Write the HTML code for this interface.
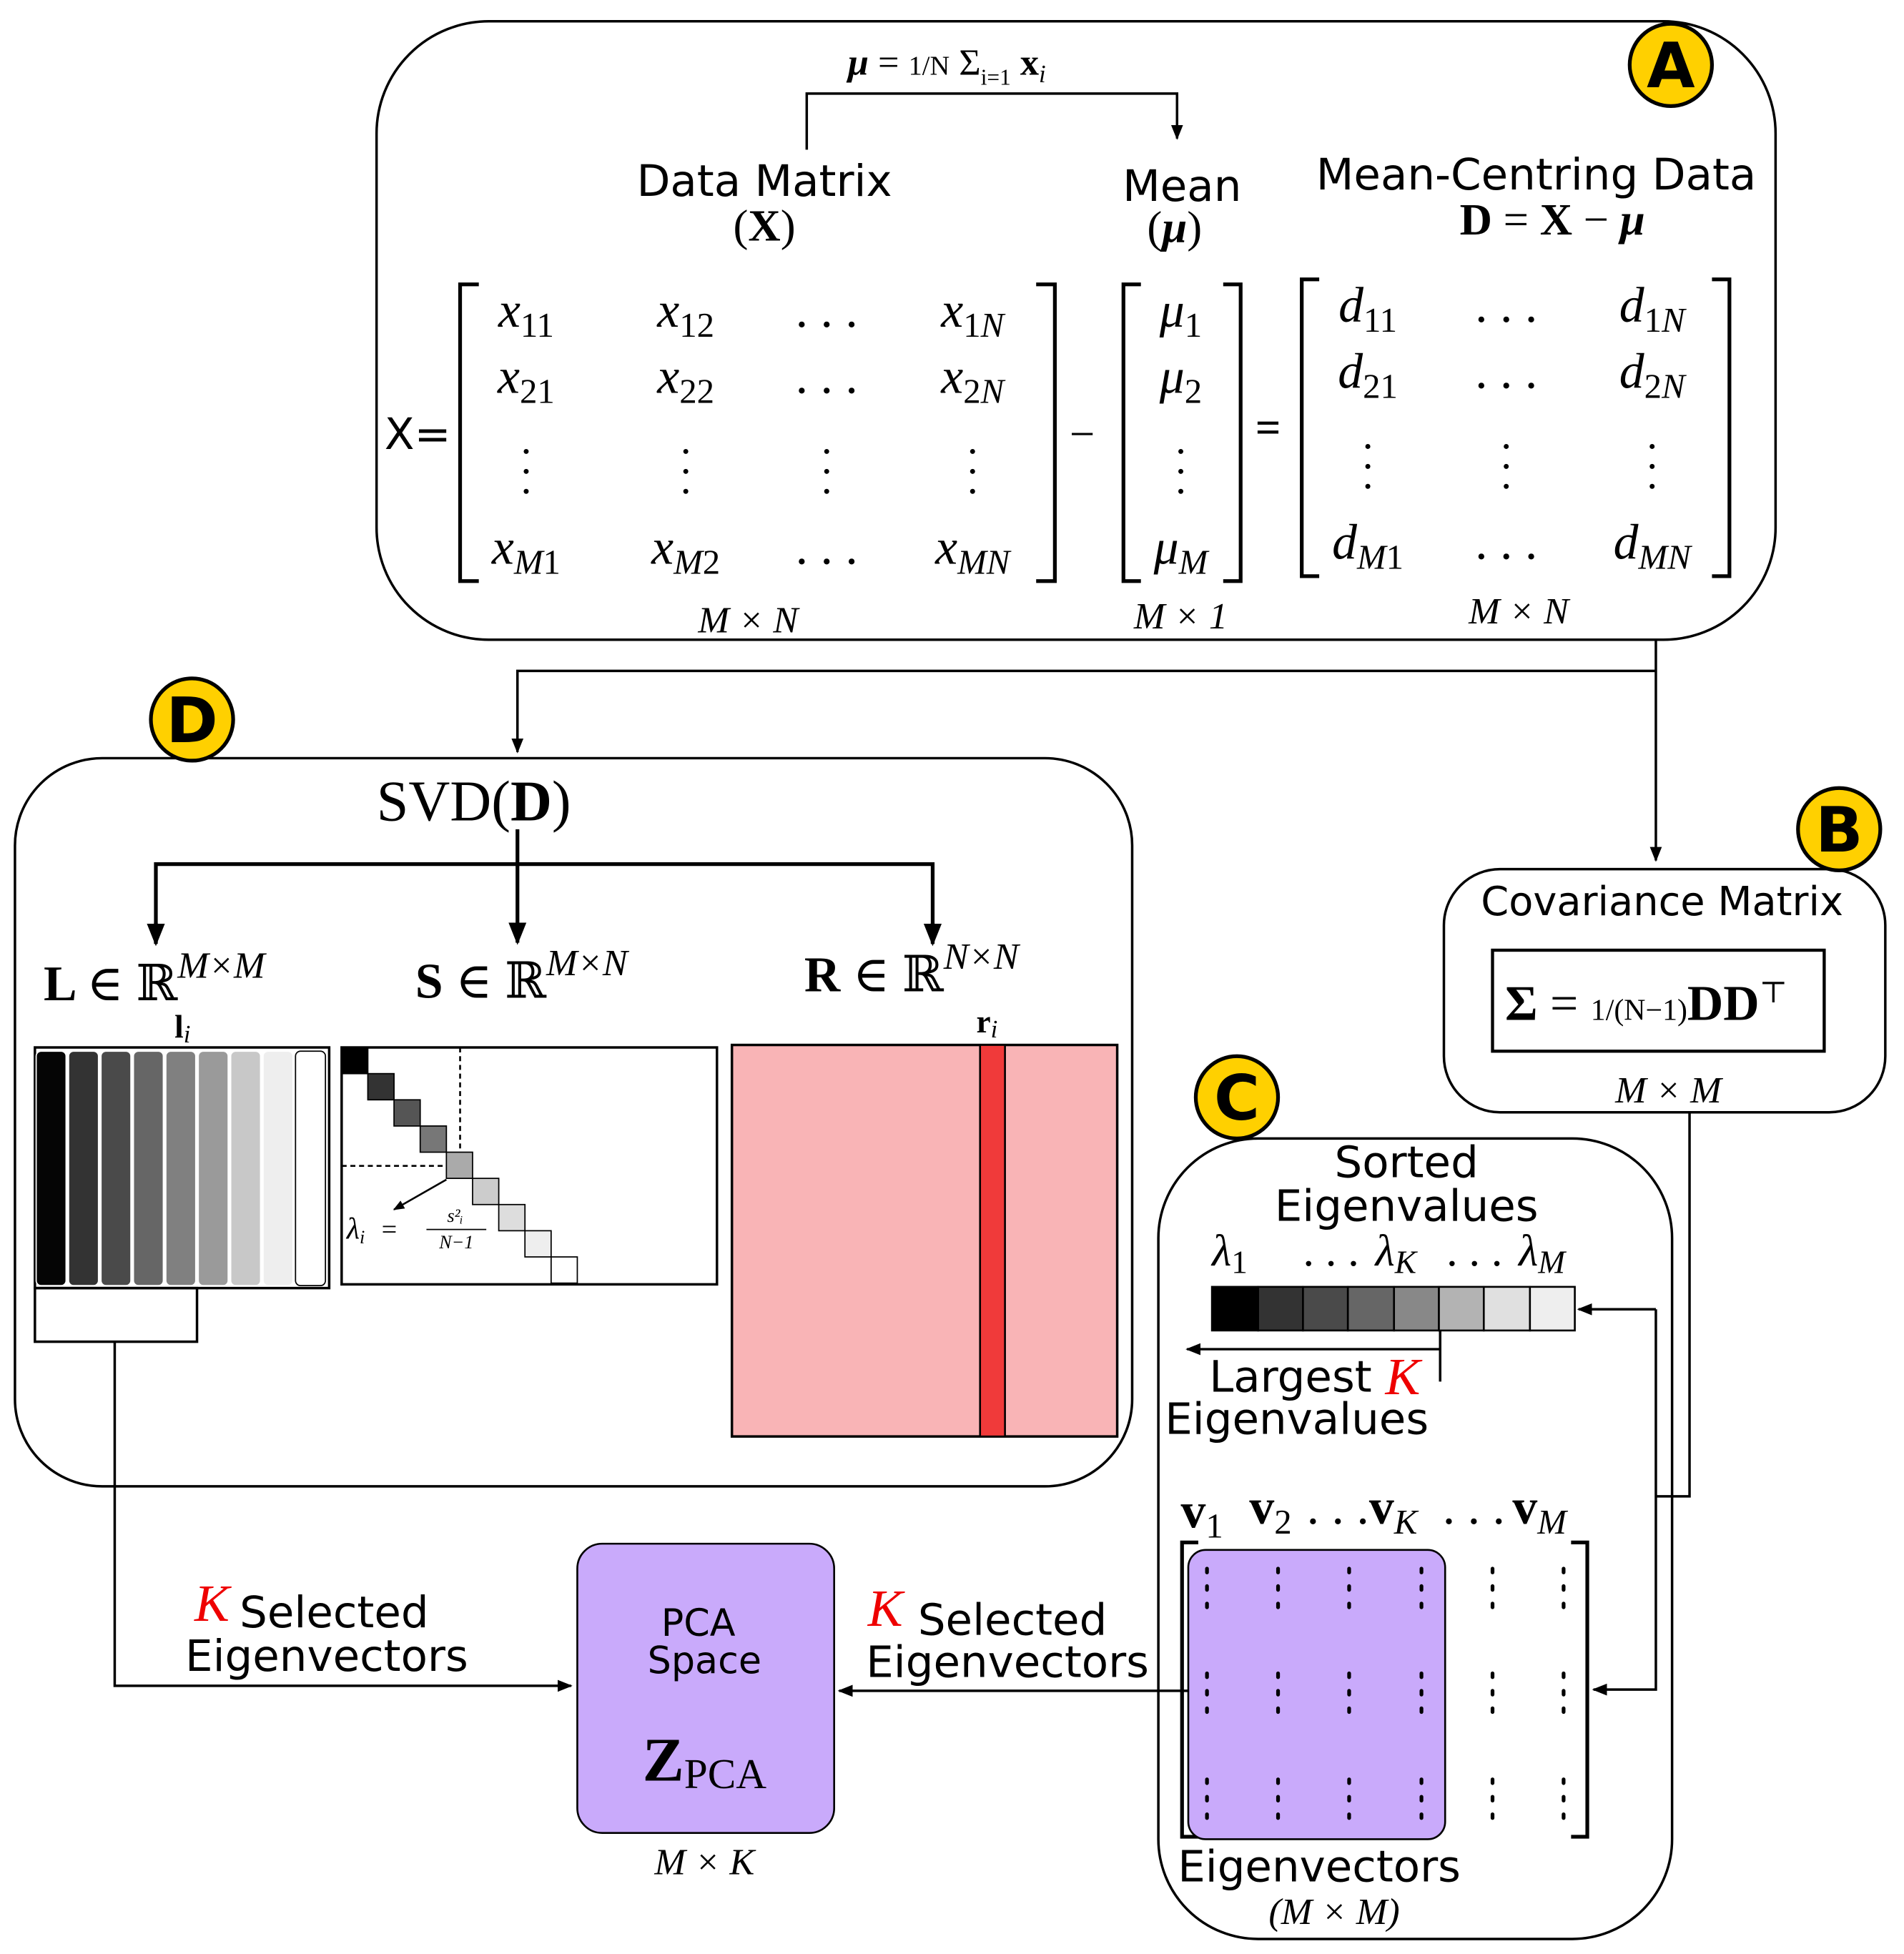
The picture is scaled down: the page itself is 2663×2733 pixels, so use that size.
<!DOCTYPE html>
<html><head><meta charset="utf-8"><style>
html,body{margin:0;padding:0;background:#fff}
svg{display:block}
.s{font-family:"DejaVu Sans","Liberation Sans",sans-serif}
.m{font-family:"Liberation Serif","DejaVu Serif",serif;font-style:italic}
.r{font-family:"Liberation Serif","DejaVu Serif",serif}
</style></head><body>
<svg width="2663" height="2733" viewBox="0 0 1527 1567" xmlns="http://www.w3.org/2000/svg">
<defs>
<marker id="ar" viewBox="0 0 10 10" refX="9" refY="5" markerWidth="6" markerHeight="6" orient="auto"><path d="M0,1 L10,5 L0,9 z" fill="#000"/></marker>
</defs>
<g fill="none" stroke="#000" stroke-width="2">
<rect x="302" y="17" width="1122" height="496" rx="90"/>
<rect x="12" y="608" width="896" height="584" rx="70"/>
<rect x="1158" y="697" width="354" height="195" rx="45"/>
<rect x="929" y="913" width="412" height="642" rx="80"/>
<rect x="1197" y="762" width="266" height="81" stroke-width="2.5"/>
</g>
<rect x="463" y="1238" width="206" height="232" rx="20" fill="#C9AAFB" stroke="#000" stroke-width="1.5"/>
<g fill="none" stroke="#000" stroke-width="2">
<polyline points="647,120 647,75 944,75 944,111" marker-end="url(#ar)"/>
<polyline points="1328,513 1328,690" marker-end="url(#ar)"/>
<polyline points="1328,538 415,538 415,603" marker-end="url(#ar)"/>
<polyline points="92,1076 92,1352 458,1352" marker-end="url(#ar)"/>
<polyline points="1355,892 1355,1200 1328,1200"/>
<polyline points="1328,1050 1328,1355 1278,1355" marker-end="url(#ar)"/>
<polyline points="1328,1050 1266,1050" marker-end="url(#ar)"/>
<polyline points="953,1356 673,1356" marker-end="url(#ar)"/>
<polyline points="1155,1067 1155,1108"/>
<polyline points="1155,1082 952,1082" marker-end="url(#ar)"/>
</g>
<g fill="none" stroke="#000" stroke-width="3">
<line x1="415" y1="665" x2="415" y2="756" marker-end="url(#ar)"/>
<polyline points="125,756 125,693 748,693 748,756"/>
<line x1="125" y1="740" x2="125" y2="757" marker-end="url(#ar)"/>
<line x1="748" y1="740" x2="748" y2="757" marker-end="url(#ar)"/>
</g>
<g stroke="#000" stroke-width="3" fill="#FFD000">
<circle cx="1340" cy="52" r="33"/><circle cx="154" cy="577" r="33"/>
<circle cx="1475" cy="665" r="33"/><circle cx="992" cy="880" r="33"/>
</g>
<g class="s" font-weight="bold" font-size="50" text-anchor="middle">
<text x="1340" y="70">A</text><text x="154" y="595">D</text>
<text x="1475" y="683">B</text><text x="992" y="898">C</text>
</g>
<text x="680" y="60" class="r" font-size="30"><tspan font-weight="bold" font-style="italic">μ</tspan> = <tspan font-size="22">1/N</tspan> Σ<tspan font-size="18" dy="8">i=1</tspan><tspan dy="-8"> </tspan><tspan font-weight="bold">x</tspan><tspan font-style="italic" font-size="20" dy="6">i</tspan></text>
<g class="s" font-size="35" text-anchor="middle">
<text x="613" y="157">Data Matrix</text>
<text x="948" y="161">Mean</text>
<text x="1232" y="152">Mean-Centring Data</text>
<text x="335" y="360">X=</text>
<text x="1333" y="734" font-size="32">Covariance Matrix</text>
<text x="1128" y="944">Sorted</text>
<text x="1128" y="979">Eigenvalues</text>
<text x="1035" y="1116">Largest</text>
<text x="1040" y="1150">Eigenvalues</text>
<text x="1058" y="1509">Eigenvectors</text>
<text x="268" y="1305">Selected</text>
<text x="262" y="1340">Eigenvectors</text>
<text x="812" y="1311">Selected</text>
<text x="808" y="1345">Eigenvectors</text>
<text x="560" y="1312" font-size="30">PCA</text>
<text x="565" y="1342" font-size="30">Space</text>
</g>
<g class="r" font-size="36" text-anchor="middle">
<text x="613" y="193">(<tspan font-weight="bold">X</tspan>)</text>
<text x="942" y="194">(<tspan font-weight="bold" font-style="italic">μ</tspan>)</text>
<text x="1245" y="188" font-weight="bold">D <tspan font-weight="normal">=</tspan> X <tspan font-weight="normal">−</tspan> <tspan font-style="italic">μ</tspan></text>
<text x="868" y="360">−</text>
<text x="1017" y="355" font-weight="bold">=</text>
<text x="380" y="658" font-size="46">SVD(<tspan font-weight="bold">D</tspan>)</text>
<text x="565" y="1428" font-size="50" font-weight="bold">Z<tspan font-size="34" font-weight="normal" dy="6">PCA</tspan></text>
</g>
<text x="1207" y="818" class="r" font-size="40" font-weight="bold">Σ <tspan font-weight="normal">=</tspan> <tspan font-weight="normal" font-size="24">1/(N−1)</tspan>DD<tspan font-weight="normal" font-size="24" dy="-14">⊤</tspan></text>
<g class="m" font-size="30" text-anchor="middle">
<text x="600" y="507">M × N</text><text x="947" y="504">M × 1</text><text x="1218" y="500">M × N</text>
<text x="1338" y="884">M × M</text><text x="565" y="1503">M × K</text><text x="1070" y="1543">(M × M)</text>
<text x="170" y="1300" fill="#E00" font-size="42">K</text>
<text x="710" y="1304" fill="#E00" font-size="42">K</text>
<text x="1125" y="1118" fill="#E00" font-size="42">K</text>
</g>
<g fill="none" stroke="#000" stroke-width="3">
<polyline points="384,228 369,228 369,466 384,466"/><polyline points="831,228 846,228 846,466 831,466"/>
<polyline points="915,228 901,228 901,466 915,466"/><polyline points="981,228 995,228 995,466 981,466"/>
<polyline points="1058,224 1044,224 1044,462 1058,462"/><polyline points="1373,224 1387,224 1387,462 1373,462"/>
</g>
<g class="m" font-size="40" text-anchor="middle">
<text x="422" y="262">x<tspan font-size="28" dy="8" font-style="normal">11</tspan></text>
<text x="550" y="262">x<tspan font-size="28" dy="8" font-style="normal">12</tspan></text>
<text x="663" y="262" font-style="normal">. . .</text>
<text x="780" y="262">x<tspan font-size="28" dy="8" font-style="normal">1</tspan><tspan font-size="28">N</tspan></text>
<text x="422" y="315">x<tspan font-size="28" dy="8" font-style="normal">21</tspan></text>
<text x="550" y="315">x<tspan font-size="28" dy="8" font-style="normal">22</tspan></text>
<text x="663" y="315" font-style="normal">. . .</text>
<text x="780" y="315">x<tspan font-size="28" dy="8" font-style="normal">2</tspan><tspan font-size="28">N</tspan></text>
<text x="422" y="452">x<tspan font-size="28" dy="8">M</tspan><tspan font-size="28" font-style="normal">1</tspan></text>
<text x="550" y="452">x<tspan font-size="28" dy="8">M</tspan><tspan font-size="28" font-style="normal">2</tspan></text>
<text x="663" y="452" font-style="normal">. . .</text>
<text x="780" y="452">x<tspan font-size="28" dy="8">MN</tspan></text>
<text x="947" y="262">μ<tspan font-size="28" dy="8" font-style="normal">1</tspan></text>
<text x="947" y="315">μ<tspan font-size="28" dy="8" font-style="normal">2</tspan></text>
<text x="947" y="452">μ<tspan font-size="28" dy="8">M</tspan></text>
<text x="1097" y="258">d<tspan font-size="28" dy="8" font-style="normal">11</tspan></text>
<text x="1208" y="258" font-style="normal">. . .</text>
<text x="1325" y="258">d<tspan font-size="28" dy="8" font-style="normal">1</tspan><tspan font-size="28">N</tspan></text>
<text x="1097" y="311">d<tspan font-size="28" dy="8" font-style="normal">21</tspan></text>
<text x="1208" y="311" font-style="normal">. . .</text>
<text x="1325" y="311">d<tspan font-size="28" dy="8" font-style="normal">2</tspan><tspan font-size="28">N</tspan></text>
<text x="1097" y="448">d<tspan font-size="28" dy="8">M</tspan><tspan font-size="28" font-style="normal">1</tspan></text>
<text x="1208" y="448" font-style="normal">. . .</text>
<text x="1325" y="448">d<tspan font-size="28" dy="8">MN</tspan></text>
</g>
<g fill="#000">
<circle cx="422" cy="362" r="2"/><circle cx="422" cy="378" r="2"/><circle cx="422" cy="394" r="2"/>
<circle cx="550" cy="362" r="2"/><circle cx="550" cy="378" r="2"/><circle cx="550" cy="394" r="2"/>
<circle cx="663" cy="362" r="2"/><circle cx="663" cy="378" r="2"/><circle cx="663" cy="394" r="2"/>
<circle cx="780" cy="362" r="2"/><circle cx="780" cy="378" r="2"/><circle cx="780" cy="394" r="2"/>
<circle cx="947" cy="362" r="2"/><circle cx="947" cy="378" r="2"/><circle cx="947" cy="394" r="2"/>
<circle cx="1097" cy="358" r="2"/><circle cx="1097" cy="374" r="2"/><circle cx="1097" cy="390" r="2"/>
<circle cx="1208" cy="358" r="2"/><circle cx="1208" cy="374" r="2"/><circle cx="1208" cy="390" r="2"/>
<circle cx="1325" cy="358" r="2"/><circle cx="1325" cy="374" r="2"/><circle cx="1325" cy="390" r="2"/>
</g>
<g class="r" font-size="40">
<text x="35" y="802" font-weight="bold">L <tspan font-weight="normal">∈ ℝ</tspan><tspan font-style="italic" font-weight="normal" font-size="30" dy="-18">M×M</tspan></text>
<text x="333" y="800" font-weight="bold">S <tspan font-weight="normal">∈ ℝ</tspan><tspan font-style="italic" font-weight="normal" font-size="30" dy="-18">M×N</tspan></text>
<text x="645" y="795" font-weight="bold">R <tspan font-weight="normal">∈ ℝ</tspan><tspan font-style="italic" font-weight="normal" font-size="30" dy="-18">N×N</tspan></text>
<text x="140" y="832" font-size="26" font-weight="bold">l<tspan font-style="italic" font-weight="normal" font-size="20" dy="4">i</tspan></text>
<text x="783" y="828" font-size="26" font-weight="bold">r<tspan font-style="italic" font-weight="normal" font-size="20" dy="4">i</tspan></text>
</g>
<rect x="28" y="840" width="236" height="193" fill="#fff" stroke="#000" stroke-width="2"/>
<g stroke="#fff" stroke-width="1">
<rect x="29" y="843" width="24" height="188" rx="4" fill="#050505"/>
<rect x="55" y="843" width="24" height="188" rx="4" fill="#333"/>
<rect x="81" y="843" width="24" height="188" rx="4" fill="#4a4a4a"/>
<rect x="107" y="843" width="24" height="188" rx="4" fill="#666"/>
<rect x="133" y="843" width="24" height="188" rx="4" fill="#808080"/>
<rect x="159" y="843" width="24" height="188" rx="4" fill="#9a9a9a"/>
<rect x="185" y="843" width="24" height="188" rx="4" fill="#c8c8c8"/>
<rect x="211" y="843" width="24" height="188" rx="4" fill="#eee"/>
<rect x="237" y="843" width="24" height="188" rx="4" fill="#fff" stroke="#000"/>
</g>
<rect x="28" y="1033" width="130" height="43" fill="none" stroke="#000" stroke-width="2"/>
<rect x="274" y="840" width="301" height="190" fill="#fff" stroke="#000" stroke-width="2"/>
<g stroke="#000" stroke-width="1">
<rect x="274" y="840" width="21" height="21" fill="#000"/>
<rect x="295" y="861" width="21" height="21" fill="#333"/>
<rect x="316" y="882" width="21" height="21" fill="#555"/>
<rect x="337" y="903" width="21" height="21" fill="#777"/>
<rect x="358" y="924" width="21" height="21" fill="#aaa"/>
<rect x="379" y="945" width="21" height="21" fill="#ccc"/>
<rect x="400" y="966" width="21" height="21" fill="#ddd"/>
<rect x="421" y="987" width="21" height="21" fill="#eee"/>
<rect x="442" y="1008" width="21" height="21" fill="#fff"/>
</g>
<g stroke="#000" stroke-width="1.5" stroke-dasharray="4,3">
<line x1="369" y1="840" x2="369" y2="924"/><line x1="274" y1="935" x2="358" y2="935"/>
</g>
<line x1="358" y1="946" x2="316" y2="970" stroke="#000" stroke-width="1.5" marker-end="url(#ar)"/>
<text x="278" y="993" class="m" font-size="24">λ<tspan font-size="15" dy="4">i</tspan></text>
<text x="306" y="993" class="r" font-size="22">=</text>
<text x="365" y="980" class="m" font-size="15" text-anchor="middle">s²ᵢ</text>
<line x1="342" y1="986" x2="390" y2="986" stroke="#000" stroke-width="1"/>
<text x="366" y="1001" class="m" font-size="15" text-anchor="middle">N−1</text>
<rect x="587" y="838" width="309" height="314" fill="#F9B4B6" stroke="#000" stroke-width="2"/>
<rect x="786" y="838" width="20" height="314" fill="#F03A3A" stroke="#000" stroke-width="1.5"/>
<g stroke="#000" stroke-width="1.5">
<rect x="972" y="1032" width="37" height="35" fill="#000"/>
<rect x="1009" y="1032" width="36" height="35" fill="#333"/>
<rect x="1045" y="1032" width="36" height="35" fill="#4a4a4a"/>
<rect x="1081" y="1032" width="37" height="35" fill="#666"/>
<rect x="1118" y="1032" width="36" height="35" fill="#888"/>
<rect x="1154" y="1032" width="36" height="35" fill="#b3b3b3"/>
<rect x="1190" y="1032" width="37" height="35" fill="#e0e0e0"/>
<rect x="1227" y="1032" width="36" height="35" fill="#eee"/>
</g>
<g class="m" font-size="36">
<text x="972" y="1015">λ<tspan font-size="26" dy="6" font-style="normal">1</tspan></text>
<text x="1045" y="1015" font-style="normal">. . .</text><text x="1103" y="1015">λ<tspan font-size="26" dy="6">K</tspan></text>
<text x="1160" y="1015" font-style="normal">. . .</text><text x="1218" y="1015">λ<tspan font-size="26" dy="6">M</tspan></text>
</g>
<g class="r" font-size="40" font-weight="bold">
<text x="947" y="1225">v<tspan font-weight="normal" font-size="28" dy="8">1</tspan></text>
<text x="1002" y="1222">v<tspan font-weight="normal" font-size="28" dy="8">2</tspan></text>
<text x="1048" y="1222" font-weight="normal">. . .</text>
<text x="1098" y="1222">v<tspan font-weight="normal" font-style="italic" font-size="28" dy="8">K</tspan></text>
<text x="1157" y="1222" font-weight="normal">. . .</text>
<text x="1213" y="1222">v<tspan font-weight="normal" font-style="italic" font-size="28" dy="8">M</tspan></text>
</g>
<g fill="none" stroke="#000" stroke-width="3">
<polyline points="961,1237 948,1237 948,1473 961,1473"/><polyline points="1260,1237 1273,1237 1273,1473 1260,1473"/>
</g>
<rect x="953" y="1243" width="206" height="232" rx="14" fill="#C9AAFB" stroke="#000" stroke-width="1.5"/>
<g stroke="#000" stroke-width="3" stroke-dasharray="3,11" stroke-linecap="round">
<line x1="968" y1="1258" x2="968" y2="1298"/><line x1="1025" y1="1258" x2="1025" y2="1298"/><line x1="1082" y1="1258" x2="1082" y2="1298"/><line x1="1140" y1="1258" x2="1140" y2="1298"/><line x1="1197" y1="1258" x2="1197" y2="1298"/><line x1="1254" y1="1258" x2="1254" y2="1298"/>
<line x1="968" y1="1342" x2="968" y2="1382"/><line x1="1025" y1="1342" x2="1025" y2="1382"/><line x1="1082" y1="1342" x2="1082" y2="1382"/><line x1="1140" y1="1342" x2="1140" y2="1382"/><line x1="1197" y1="1342" x2="1197" y2="1382"/><line x1="1254" y1="1342" x2="1254" y2="1382"/>
<line x1="968" y1="1427" x2="968" y2="1467"/><line x1="1025" y1="1427" x2="1025" y2="1467"/><line x1="1082" y1="1427" x2="1082" y2="1467"/><line x1="1140" y1="1427" x2="1140" y2="1467"/><line x1="1197" y1="1427" x2="1197" y2="1467"/><line x1="1254" y1="1427" x2="1254" y2="1467"/>
</g>
</svg>
</body></html>
